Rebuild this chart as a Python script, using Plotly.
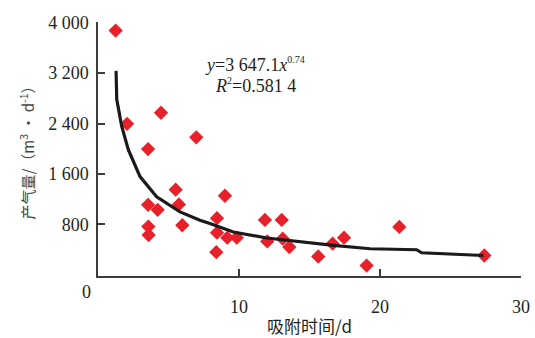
import plotly.graph_objects as go

# Observed data (adsorption time d, gas production m3/d)
adsorb_days = [1.25, 2.06, 4.47, 3.55, 6.97, 3.55, 4.23, 5.51, 5.74, 3.57,
               3.59, 5.98, 9.0, 8.44, 8.44, 9.17, 9.84, 8.39, 11.84, 12.0,
               13.03, 13.1, 13.57, 15.62, 16.64, 17.45, 19.05, 21.37, 27.4]
gas_output = [3877, 2395, 2571, 1995, 2181, 1109, 1029, 1349, 1115, 763,
              629, 784, 1253, 896, 667, 587, 587, 357, 869, 528,
              869, 571, 437, 288, 491, 587, 144, 757, 304]

# Fitted curve as drawn in the figure
fit_days = [1.28, 1.33, 1.68, 2.15, 2.98, 4.16, 5.82, 7.23, 7.94, 9.6,
            11.96, 14.33, 16.7, 19.3, 20.0, 22.6, 22.95, 27.33]
fit_output = [3237, 2784, 2357, 1984, 1557, 1237, 997, 864, 811, 677,
              581, 517, 464, 411, 405, 395, 347, 304]

x_ticks = [0, 10, 20, 30]
x_ticktext = ["", "10", "20", "30"]
y_ticks = [800, 1600, 2400, 3200, 4000]
y_ticktext = ["800", "1 600", "2 400", "3 200", "4 000"]

txt = "#231f20"
axcol = "#3c3c3c"
serif = "Liberation Serif, Times New Roman, serif"
cjk = "Noto Sans CJK SC"

fig = go.Figure()
fig.add_trace(go.Scatter(
    x=adsorb_days, y=gas_output, mode="markers",
    marker=dict(symbol="diamond", size=11, color="#e8202a", line=dict(width=0)),
    showlegend=False))
fig.add_trace(go.Scatter(
    x=fit_days, y=fit_output, mode="lines",
    line=dict(color="#1a1a1a", width=3.2), showlegend=False))

fig.update_layout(
    width=535, height=338,
    margin=dict(l=98, r=14, t=22, b=62),
    paper_bgcolor="white", plot_bgcolor="white",
    font=dict(family=serif, size=18, color=txt),
    xaxis=dict(range=[0, 30], tickvals=x_ticks, ticktext=x_ticktext,
               automargin=False,
               showgrid=False, zeroline=False, showline=True,
               linecolor=axcol, linewidth=1.5,
               ticks="inside", ticklen=7, tickwidth=1.5, tickcolor=axcol,
               ticklabelstandoff=14,
               tickfont=dict(family=serif, size=18, color=txt),
               title=dict(text="吸附时间/d", font=dict(family=cjk, size=17, color=txt),
                          standoff=13)),
    yaxis=dict(range=[-22, 4013], tickvals=y_ticks, ticktext=y_ticktext,
               automargin=False,
               showgrid=False, zeroline=False, showline=True,
               linecolor=axcol, linewidth=1.5,
               ticks="inside", ticklen=7, tickwidth=1.5, tickcolor=axcol,
               ticklabelstandoff=4,
               tickfont=dict(family=serif, size=18, color=txt),
               title=dict(text="产气量/（m<sup>3</sup> • d<sup>-1</sup>）",
                          font=dict(family=cjk, size=15, color="#444"),
                          standoff=10)),
    annotations=[
        dict(x=0, y=0, xref="x", yref="paper", text="0", showarrow=False,
             xshift=-12, yshift=-28, font=dict(family=serif, size=18, color=txt)),
        dict(x=7.45, y=3340, xref="x", yref="y", xanchor="left", yanchor="middle",
             text="<i>y</i>=3 647.1<i>x</i><sup><span style='font-size:10px'>0.74</span></sup>",
             showarrow=False,
             font=dict(family=serif, size=18, color=txt)),
        dict(x=8.16, y=3000, xref="x", yref="y", xanchor="left", yanchor="middle",
             text="<i>R</i><sup><span style='font-size:10px'>2</span></sup>=0.581 4",
             showarrow=False,
             font=dict(family=serif, size=18, color=txt)),
    ],
)

fig.write_html("out.html", config={"displayModeBar": False},
               post_script="document.body.style.margin='0';document.body.style.overflow='hidden';")
